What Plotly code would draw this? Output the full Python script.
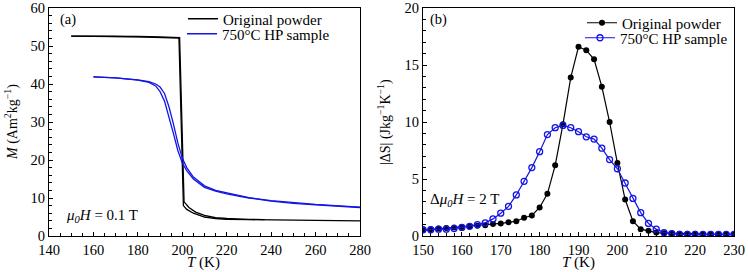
import plotly.graph_objects as go

# ---- Panel (a): M vs T, two branches each ----
t_orig_1 = [150, 160, 170, 180, 190, 198.5, 200.5, 202, 205, 210, 215, 220, 230, 240, 260, 280]
m_orig_1 = [52.6, 52.6, 52.5, 52.4, 52.3, 52.1, 8.0, 7.0, 6.0, 5.0, 4.6, 4.4, 4.3, 4.2, 4.1, 4.0]
t_orig_2 = [150, 160, 170, 180, 190, 198.8, 200.8, 203, 206, 210, 215, 220, 230, 237]
m_orig_2 = [52.6, 52.6, 52.6, 52.5, 52.4, 52.2, 9.0, 7.5, 6.3, 5.4, 4.8, 4.6, 4.4, 4.3]

t_hp_1 = [160, 170, 180, 185, 188, 190, 192, 194, 196, 198, 200, 202, 205, 210, 215, 220, 230, 240, 250, 260, 270, 280]
m_hp_1 = [41.9, 41.6, 41.0, 40.4, 39.5, 38.0, 35.5, 31.5, 27.0, 22.5, 19.2, 17.2, 15.0, 12.8, 11.8, 11.1, 10.0, 9.2, 8.6, 8.2, 7.8, 7.5]
t_hp_2 = [160, 170, 180, 185, 188, 190, 192, 194, 196, 198, 200, 202, 205, 210, 215, 220, 230, 240, 260, 280]
m_hp_2 = [41.9, 41.6, 41.1, 40.6, 40.0, 39.2, 37.5, 34.0, 29.5, 24.5, 20.5, 18.0, 15.5, 13.2, 12.0, 11.3, 10.1, 9.3, 8.3, 7.6]

# ---- Panel (b): |dS| vs T ----
t_ds = list(range(150, 231, 2))
ds_orig = [0.5, 0.6, 0.65, 0.7, 0.75, 0.8, 0.85, 0.9, 0.95, 1.05, 1.1, 1.2, 1.3, 1.6, 1.8, 2.5,
           3.7, 6.2, 9.8, 13.9, 16.6, 16.3, 15.5, 13.1, 10.0, 6.4, 3.2, 1.3, 0.6, 0.45, 0.3,
           0.25, 0.25, 0.2, 0.2, 0.2, 0.15, 0.15, 0.15, 0.15, 0.15]
ds_hp = [0.55, 0.55, 0.6, 0.6, 0.65, 0.75, 0.85, 1.0, 1.15, 1.5, 2.0, 2.6, 3.6, 4.8, 6.0, 7.4,
         8.9, 9.5, 9.7, 9.5, 9.15, 8.7, 8.5, 7.7, 6.7, 5.9, 4.65, 3.3, 2.05, 1.1, 0.6,
         0.3, 0.2, 0.15, 0.15, 0.15, 0.15, 0.15, 0.15, 0.15, 0.15]

labels = ["Original powder", "750°C HP sample"]
BLUE = "#1414e6"
FONT = "Liberation Serif"

fig = go.Figure()
fig.add_trace(go.Scatter(x=t_orig_1, y=m_orig_1, mode="lines", line=dict(color="black", width=1.3),
                         name=labels[0], legend="legend", xaxis="x", yaxis="y"))
fig.add_trace(go.Scatter(x=t_orig_2, y=m_orig_2, mode="lines", line=dict(color="black", width=1.3),
                         showlegend=False, xaxis="x", yaxis="y"))
fig.add_trace(go.Scatter(x=t_hp_1, y=m_hp_1, mode="lines", line=dict(color=BLUE, width=1.3),
                         name=labels[1], legend="legend2", xaxis="x", yaxis="y"))
fig.add_trace(go.Scatter(x=t_hp_2, y=m_hp_2, mode="lines", line=dict(color=BLUE, width=1.3),
                         showlegend=False, xaxis="x", yaxis="y"))

fig.add_trace(go.Scatter(x=t_ds, y=ds_orig, mode="lines+markers", line=dict(color="black", width=1.2),
                         marker=dict(symbol="circle", size=6, color="black"),
                         name=labels[0], legend="legend3", xaxis="x2", yaxis="y2"))
fig.add_trace(go.Scatter(x=t_ds, y=ds_hp, mode="lines+markers", line=dict(color=BLUE, width=1.2),
                         marker=dict(symbol="circle-open", size=6, color=BLUE, line=dict(width=1.3)),
                         name=labels[1], legend="legend4", xaxis="x2", yaxis="y2"))

W, H = 748, 272
def px(v): return v / W
def py(v): return 1 - v / H

axcommon = dict(showline=True, linecolor="black", linewidth=1.3, mirror=True, ticks="inside",
                ticklen=4, tickwidth=1, tickcolor="black", showgrid=False, zeroline=False,
                automargin=False, ticklabeloverflow="allow",
                tickfont=dict(family=FONT, size=14.5, color="black"),
                minor=dict(ticks="inside", ticklen=2.5, tickwidth=1, tickcolor="black", showgrid=False))

def leg(x, y):
    return dict(x=px(x), y=py(y), xanchor="right", yanchor="middle", bgcolor="rgba(0,0,0,0)",
                font=dict(family=FONT, size=15), tracegroupgap=0, itemwidth=30)

fig.update_layout(
    width=W, height=H, margin=dict(l=0, r=0, t=0, b=0, autoexpand=False),
    plot_bgcolor="white", paper_bgcolor="white",
    font=dict(family=FONT, size=14, color="black"),
    xaxis=dict(domain=[px(49), px(360)], range=[140, 280], dtick=20, anchor="y", **axcommon),
    yaxis=dict(domain=[py(236), py(8)], range=[0, 60], dtick=10, anchor="x", **axcommon),
    xaxis2=dict(domain=[px(423), px(734)], range=[150, 230], dtick=10, anchor="y2", **axcommon),
    yaxis2=dict(domain=[py(236), py(8)], range=[0, 20], dtick=5, anchor="x2", **axcommon),
    legend=leg(327, 19),
    legend2=leg(335, 34),
    legend3=leg(726, 23),
    legend4=leg(733, 38),
)

def ann(text, x, y, size=15, angle=0, xanchor="center"):
    fig.add_annotation(text=text, xref="paper", yref="paper", x=px(x), y=py(y), xanchor=xanchor,
                       yanchor="middle", showarrow=False, textangle=angle,
                       font=dict(family=FONT, size=size, color="black"))

ann("<i>T</i> (K)", 204, 262)
ann("<i>T</i> (K)", 578, 262)
ann("<i>M</i> (Am<sup>2</sup>kg<sup>−1</sup>)", 12, 122, size=14, angle=-90)
ann("|ΔS| (Jkg<sup>−1</sup>K<sup>−1</sup>)", 385, 122, size=14, angle=-90)
ann("(a)", 58, 20, size=14.5, xanchor="left")
ann("(b)", 428, 20, size=14.5, xanchor="left")
ann("<i>μ<sub>0</sub>H</i> = 0.1 T", 64, 216, xanchor="left")
ann("Δ<i>μ<sub>0</sub>H</i> = 2 T", 428, 200, xanchor="left")

fig.write_html("out.html", config={"displayModeBar": False},
               post_script="document.body.style.margin='0';document.body.style.overflow='hidden';")
